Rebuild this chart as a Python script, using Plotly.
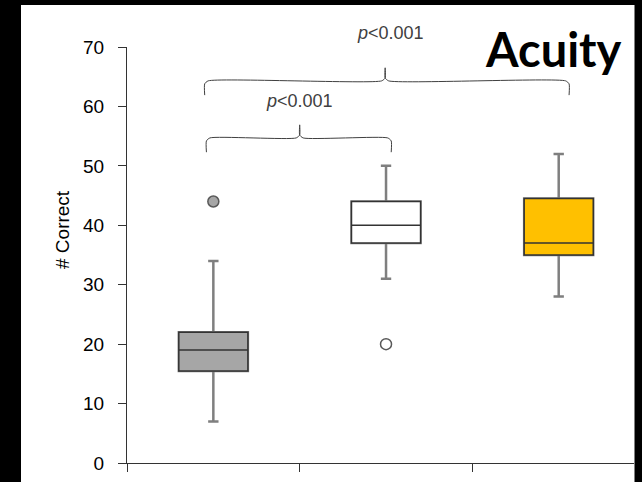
import plotly.graph_objects as go

# ---- data ----
groups = [0, 1, 2]
q1 = [15.5, 37.0, 35.0]
median = [19.0, 40.0, 37.0]
q3 = [22.0, 44.0, 44.5]
lower_whisker = [7.0, 31.0, 28.0]
upper_whisker = [34.0, 50.0, 52.0]
fill_colors = ["#a6a6a6", "#ffffff", "#ffc000"]

outlier_x = [0, 1]
outlier_y = [44.0, 20.0]
outlier_fill = ["#a6a6a6", "#ffffff"]

y_ticks = [0, 10, 20, 30, 40, 50, 60, 70]

# comparisons: (group a, group b, bracket height, label)
comp_a = [0, 0]
comp_b = [1, 2]
comp_level = [54.7, 64.3]
comp_label = ["<i>p</i>&lt;0.001", "<i>p</i>&lt;0.001"]

W, H = 642, 482
L, R, T, B = 127, 8, 47, 19
pw = W - L - R
ph = H - T - B
Y_MAX = 70.0
X_RANGE = [-0.5, 2.436]

fig = go.Figure()

box_w = 0.40
for g, a, m, b, lo, hi, fc in zip(groups, q1, median, q3, lower_whisker, upper_whisker, fill_colors):
    # whiskers (grey)
    fig.add_trace(go.Box(
        x=[g], q1=[a], median=[m], q3=[b], lowerfence=[lo], upperfence=[hi],
        width=box_w, whiskerwidth=0.15, fillcolor=fc,
        line=dict(color="#7f7f7f", width=2.5), boxpoints=False,
        showlegend=False, hoverinfo="skip"))
    # box outline (dark)
    fig.add_trace(go.Box(
        x=[g], q1=[a], median=[m], q3=[b], lowerfence=[a], upperfence=[b],
        width=box_w, whiskerwidth=0, fillcolor=fc,
        line=dict(color="#333333", width=1.5), boxpoints=False,
        showlegend=False, hoverinfo="skip"))

fig.add_trace(go.Scatter(
    x=outlier_x, y=outlier_y, mode="markers",
    marker=dict(size=11, color=outlier_fill, line=dict(color="#595959", width=1.5)),
    showlegend=False, hoverinfo="skip"))

# significance brackets
drop = 2.4
rise = 2.2
for a, b, lvl, lab in zip(comp_a, comp_b, comp_level, comp_label):
    span = b - a - 1
    xl = a - 0.04 - 0.01 * span
    xr = b + 0.03 + 0.03 * span
    xm = (a + b) / 2 - 0.005 * span
    c = 0.02
    xs = [xl, xl, xl + c, xm - c, xm, xm, xm, xm + c, xr - c, xr, xr]
    ys = [lvl - drop, lvl - 0.5, lvl, lvl, lvl + 0.5, lvl + rise, lvl + 0.5, lvl, lvl, lvl - 0.5, lvl - drop]
    fig.add_trace(go.Scatter(
        x=xs, y=ys, mode="lines", line=dict(color="#404040", width=1, shape="spline", smoothing=0.6),
        showlegend=False, hoverinfo="skip", cliponaxis=False))
    tx = xm + 0.03 * span
    fig.add_annotation(x=(tx - X_RANGE[0]) / (X_RANGE[1] - X_RANGE[0]),
                       y=(lvl + rise + 4.0 + 1.85 * span) / Y_MAX, xref="paper", yref="paper", text=lab,
                       showarrow=False, yanchor="middle", xanchor="center",
                       font=dict(family="Liberation Sans, Arial", size=18, color="#404040"))

# title-like label
fig.add_annotation(x=(553 - L) / pw, y=(H - B - 49) / ph, xref="paper", yref="paper",
                   text="<b>Acuity</b>", showarrow=False, xanchor="center", yanchor="middle",
                   font=dict(family="Lato", size=47, color="#000000"))

# y axis title
fig.add_annotation(x=(62 - L) / pw, y=(H - B - 230) / ph, xref="paper", yref="paper",
                   text="# Correct", textangle=-90, showarrow=False,
                   xanchor="center", yanchor="middle",
                   font=dict(family="Liberation Sans, Arial", size=19, color="#000000"))

# white panel on black frame
fig.add_shape(type="rect", xref="paper", yref="paper",
              x0=(21 - L) / pw, x1=(634 - L) / pw + 0.001,
              y0=-0.2, y1=(H - B - 5) / ph,
              fillcolor="#ffffff", line=dict(width=0), layer="below")

fig.update_layout(
    width=W, height=H, autosize=False,
    margin=dict(l=L, r=R, t=T, b=B, pad=0),
    paper_bgcolor="#000000", plot_bgcolor="#ffffff",
    boxmode="overlay",
    xaxis=dict(range=X_RANGE, tickvals=[-0.5, 0.5, 1.5], ticktext=["", "", ""],
               ticks="outside", ticklen=8, tickcolor="#333333", tickwidth=1,
               showline=True, linecolor="#333333", linewidth=1,
               showgrid=False, zeroline=False, fixedrange=True),
    yaxis=dict(range=[0, Y_MAX], tickvals=y_ticks, ticks="outside", ticklen=8,
               tickcolor="#333333", tickwidth=1, ticklabelstandoff=10,
               showline=True, linecolor="#333333", linewidth=1,
               showgrid=False, zeroline=False,
               tickfont=dict(family="Liberation Sans, Arial", size=19, color="#000000")),
)

fig.write_html("out.html")
